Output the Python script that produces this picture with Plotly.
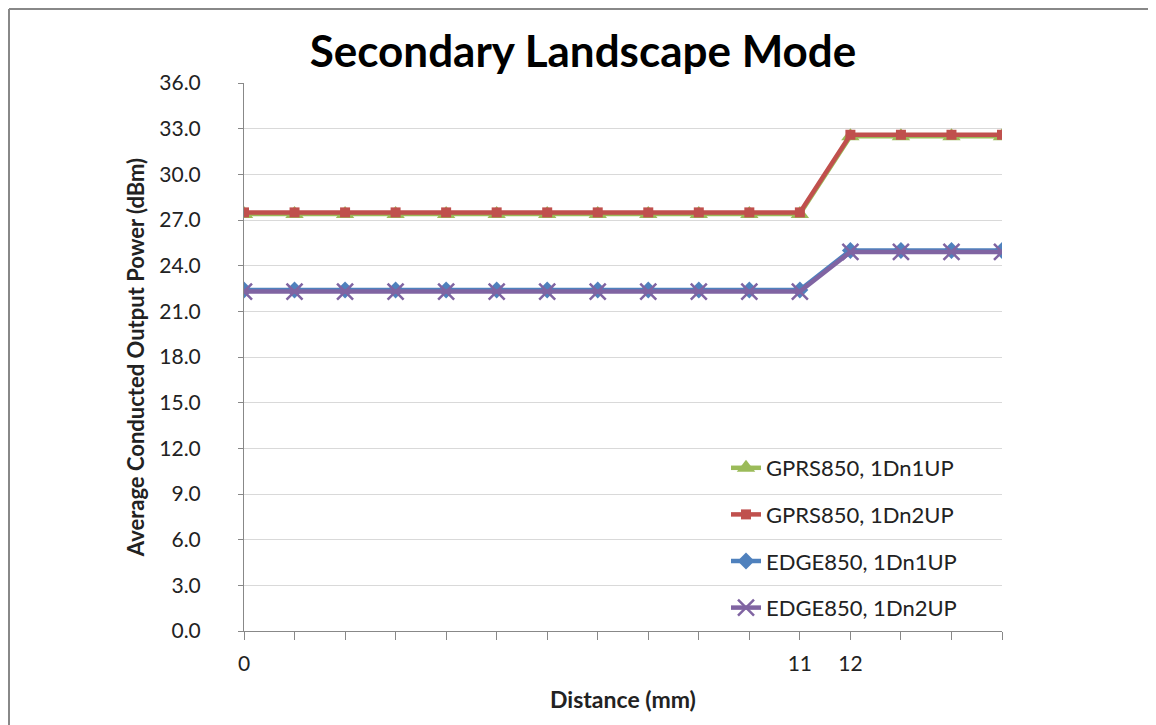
import plotly.graph_objects as go

distance = list(range(16))
tick_labels = ["0", "", "", "", "", "", "", "", "", "", "", "11", "12", "", "", ""]
gprs_1dn1up = [27.4] * 12 + [32.5] * 4
gprs_1dn2up = [27.5] * 12 + [32.6] * 4
edge_1dn1up = [22.4] * 12 + [25.0] * 4
edge_1dn2up = [22.3] * 12 + [24.9] * 4

series = [
    ("GPRS850, 1Dn1UP", gprs_1dn1up, "#9BBB59", "triangle-up", 16),
    ("GPRS850, 1Dn2UP", gprs_1dn2up, "#C0504D", "square", 10),
    ("EDGE850, 1Dn1UP", edge_1dn1up, "#4F81BD", "diamond", 13),
    ("EDGE850, 1Dn2UP", edge_1dn2up, "#8064A2", "x-thin", 16),
]

W, H = 1148, 717
L, R, T, B = 236, 154, 75, 94
PW, PH = W - L - R, H - T - B

font_family = "Lato, 'Open Sans', sans-serif"
fig = go.Figure()
for i, (name, vals, color, sym, size) in enumerate(series):
    marker = dict(symbol=sym, size=size, color=color)
    if sym == "x-thin":
        marker["line"] = dict(color=color, width=2.5)
    fig.add_trace(go.Scatter(
        x=distance, y=vals, name=name, mode="lines+markers", legendgroup=f"g{i}",
        line=dict(color=color, width=4.5), marker=marker,
    ))

fig.update_layout(
    width=W, height=H,
    paper_bgcolor="white", plot_bgcolor="white",
    margin=dict(l=L, r=R, t=T, b=B),
    title=dict(text="<b>Secondary Landscape Mode</b>", x=(583 - 8) / W, xanchor="center",
               y=1 - (52 - 8) / H, yanchor="middle",
               font=dict(family=font_family, size=44, color="black")),
    font=dict(family=font_family, size=21, color="#222222"),
    xaxis=dict(
        range=[0, 15], tickmode="array", tickvals=distance, ticktext=tick_labels,
        showline=True, linecolor="#888888", linewidth=1,
        ticks="outside", ticklen=8, tickcolor="#888888",
        showgrid=False, zeroline=False, ticklabelstandoff=6,
        tickfont=dict(size=21),
        title=dict(text="<b>Distance (mm)</b>", font=dict(size=23), standoff=17),
    ),
    yaxis=dict(
        range=[0, 36], dtick=3, tickformat=".1f",
        showline=True, linecolor="#888888", linewidth=1,
        ticks="outside", ticklen=5, tickcolor="#888888",
        showgrid=True, gridcolor="#D9D9D9", gridwidth=1, zeroline=False,
        ticklabelstandoff=33,
        tickfont=dict(size=21),
        title=dict(text="<b>Average Conducted Output Power (dBm)</b>", font=dict(size=22), standoff=8),
    ),
    legend=dict(x=(718 - L) / PW, y=(H - B - 439) / PH, xanchor="left", yanchor="top",
                bgcolor="rgba(255,255,255,0)", font=dict(size=22),
                tracegroupgap=15, traceorder="grouped"),
    showlegend=True,
)
top_y = 1 + (T - 1) / PH
left_x = -(L - 1) / PW
fig.add_shape(type="line", xref="paper", yref="paper", x0=left_x, x1=(W - L) / PW,
              y0=top_y, y1=top_y, line=dict(color="#888888", width=2))
fig.add_shape(type="line", xref="paper", yref="paper", x0=left_x, x1=left_x,
              y0=-B / PH, y1=top_y, line=dict(color="#888888", width=2))
fig.write_html("out.html")
